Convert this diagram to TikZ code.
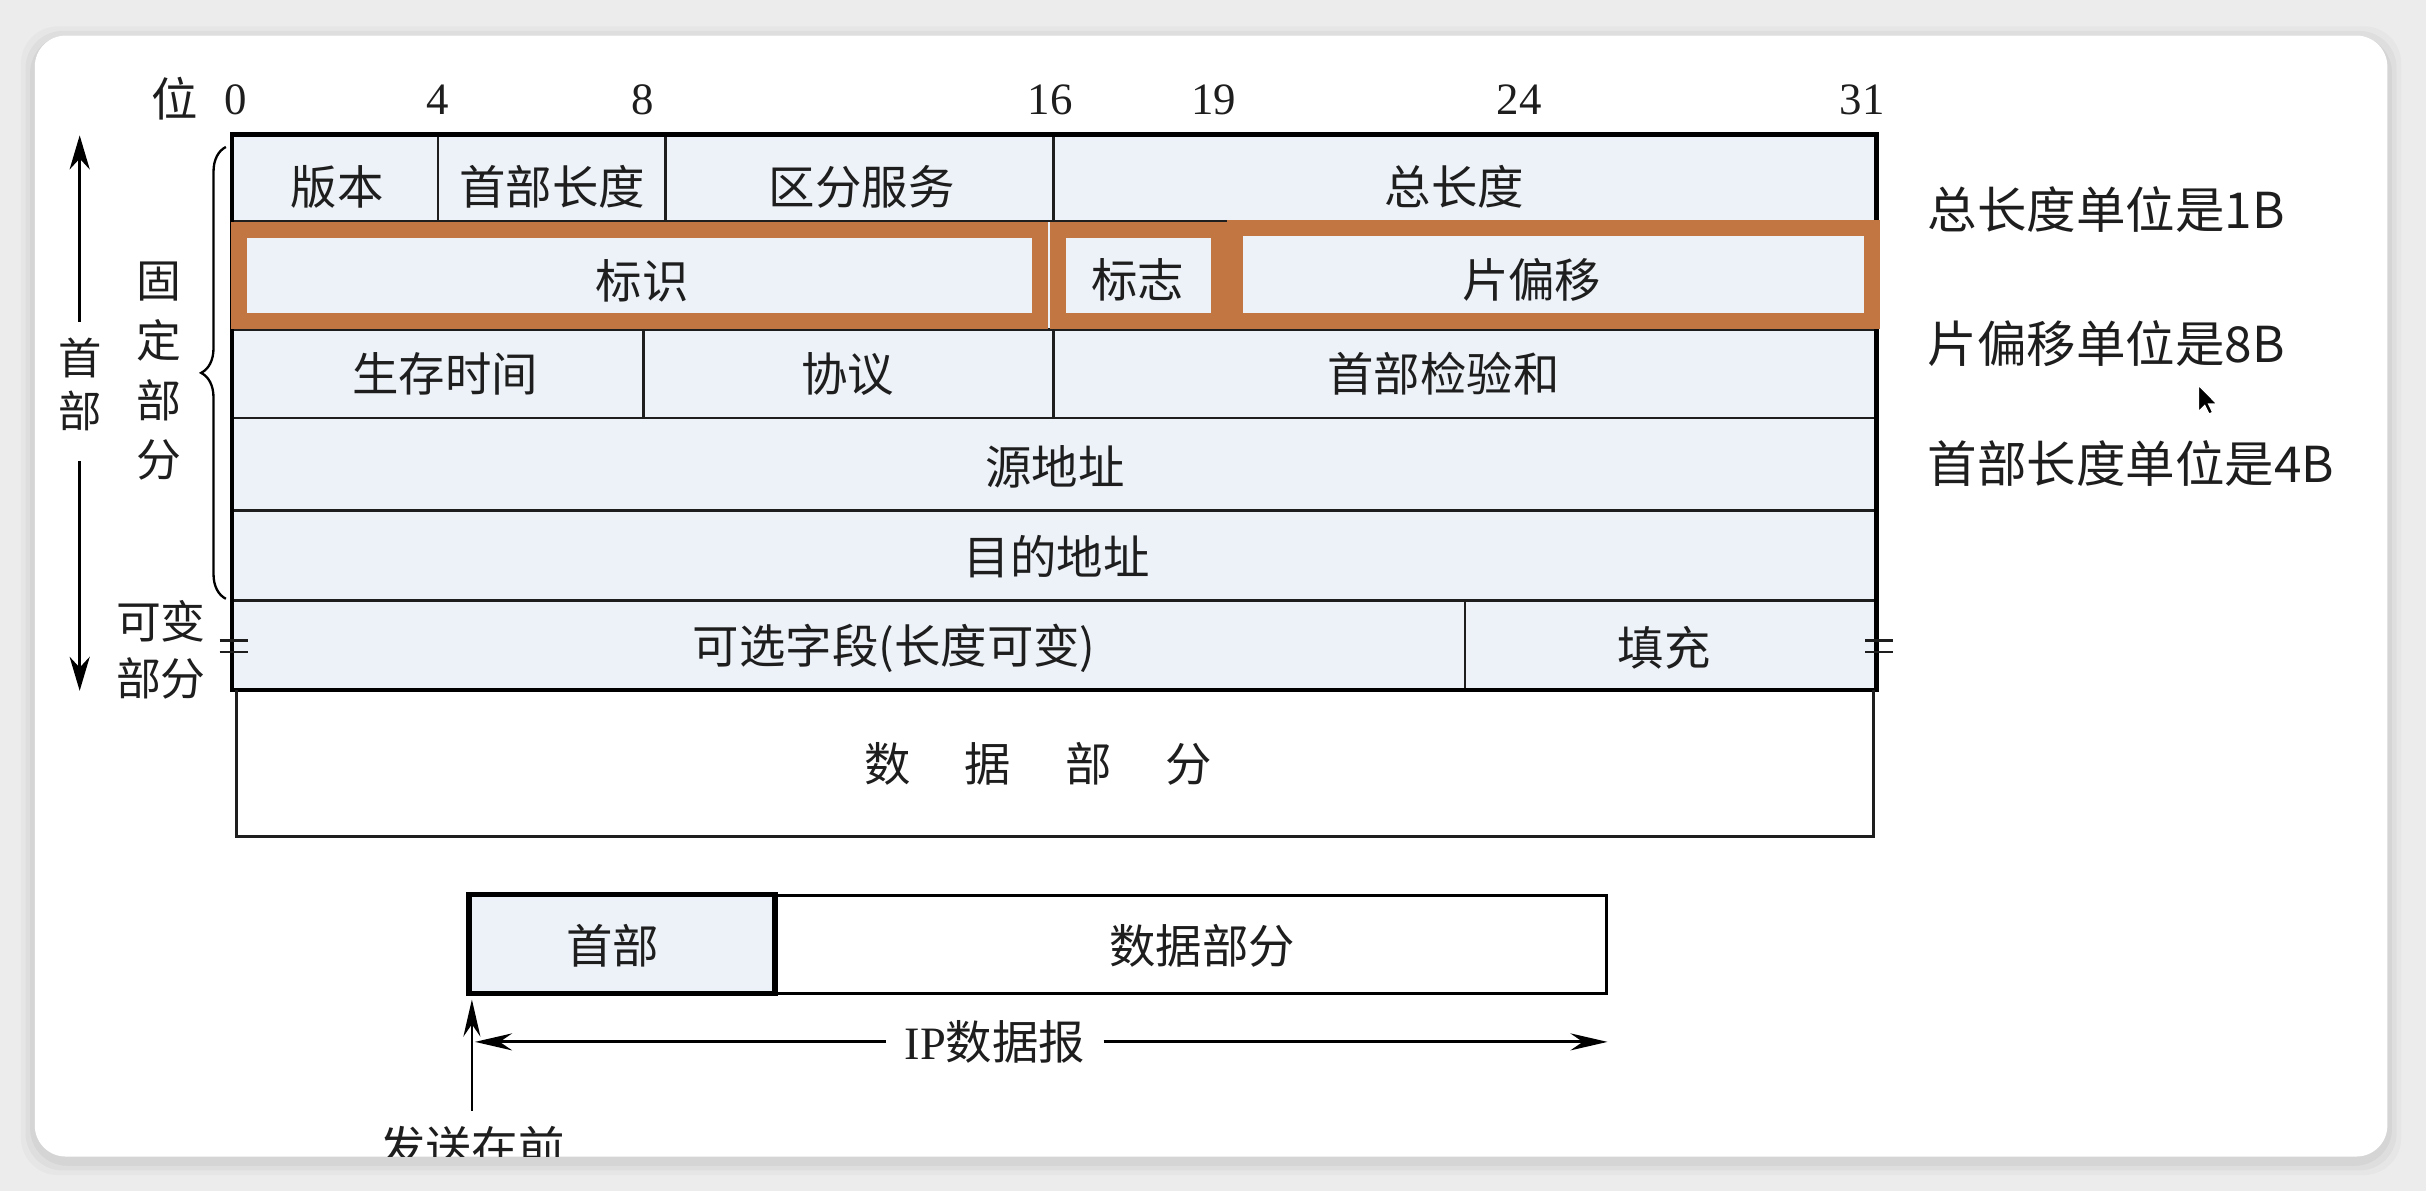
\documentclass[tikz,border=0pt]{standalone}
\usepackage{fontspec}
\setmainfont{Liberation Serif}
\newfontfamily\cjk{Noto Sans CJK SC}
\usetikzlibrary{arrows.meta,decorations.pathreplacing}
\definecolor{bgout}{RGB}{236,236,236}
\definecolor{cellfill}{RGB}{237,242,248}
\definecolor{hl}{RGB}{194,119,66}
\definecolor{ink}{RGB}{30,30,30}
\begin{document}
\begin{tikzpicture}[x=1pt,y=-1pt,
  every node/.style={inner sep=0pt,outer sep=0pt,text=ink},
  tab/.style={font=\cjk\fontsize{30}{34}\selectfont},
  lbl/.style={font=\cjk\fontsize{29}{37}\selectfont,align=center},
  bitn/.style={font=\fontsize{29}{32}\selectfont},
  side/.style={font=\cjk\fontsize{32}{36}\selectfont,anchor=west},
  gridln/.style={draw=ink,line width=1.6pt},
  tblframe/.style={draw=black,line width=3pt},
  hlbox/.style={draw=hl,line width=10.5pt},
  arrA/.style={draw=black,line width=1.8pt,-{Stealth[length=22pt,width=13pt,inset=7pt]}},
  arrB/.style={draw=black,line width=1.8pt,-{Stealth[length=24pt,width=11pt,inset=8pt]}}
]
\useasboundingbox (0,0) rectangle (1568,770);
% screen background and card
\fill[bgout] (0,0) rectangle (1568,770);
\foreach \o/\a in {9/0.025,6/0.03,3/0.04}{
  \fill[black,opacity=\a,rounded corners=24pt] (22.5-\o,23-\o+3) rectangle (1543+\o,747.5+\o+3);}
\fill[white,rounded corners=20pt] (22.5,23) rectangle (1543,747.5);

% header table
\fill[cellfill] (150,87) rectangle (1213,446);
\foreach \y in {143,213,270,330,388}{\draw[gridln] (150,\y) -- (1213,\y);}
\draw[gridln] (283,87) -- (283,143);
\draw[gridln] (430,87) -- (430,143);
\draw[gridln] (681,87) -- (681,270);
\draw[gridln] (416,213) -- (416,270);
\draw[gridln] (947,388) -- (947,446);
\draw[tblframe] (150,87) rectangle (1213,446);
% data part box
\draw[gridln] (153,446) -- (153,540.5) -- (1211,540.5) -- (1211,446);
% highlighted fields
\draw[hlbox] (154.25,148.5) rectangle (672.25,207.25);
\draw[hlbox] (684,148.5) rectangle (787.75,207.25);
\draw[hlbox] (798.25,147.5) rectangle (1209.75,207.25);
% break marks
\draw[gridln] (142,414) -- (160,414);
\draw[gridln] (142,421.5) -- (160,421.5);
\draw[gridln] (1205.5,414) -- (1223.5,414);
\draw[gridln] (1205.5,421.5) -- (1223.5,421.5);

% bit numbers
\node[tab] (wei) at (112.6,64) {位};
\node[bitn] (b0) at (152.5,64.5) {0};
\node[bitn] (b4) at (283,64.5) {4};
\node[bitn] (b8) at (415.5,64.5) {8};
\node[bitn] (b16) at (678.7,64.5) {16};
\node[bitn] (b19) at (784.6,64.5) {19};
\node[bitn] (b24) at (982,64.5) {24};
\node[bitn] (b31) at (1203.6,64.5) {31};

% field texts
\node[tab] (ver) at (218,120.6) {版本};
\node[tab] (ihl) at (357,120.6) {首部长度};
\node[tab] (ds) at (557,120.6) {区分服务};
\node[tab] (tlen) at (940,120.6) {总长度};
\node[tab] (ident) at (415,181.6) {标识};
\node[tab] (flag) at (735.5,181) {标志};
\node[tab] (frag) at (990,181) {片偏移};
\node[tab] (ttl) at (287.7,241.7) {生存时间};
\node[tab] (proto) at (548,241.7) {协议};
\node[tab] (csum) at (933,241.7) {首部检验和};
\node[tab] (src) at (682,302) {源地址};
\node[tab] (dst) at (683,359.5) {目的地址};
\node[tab] (opt) at (578,419) {可选字段(长度可变)};
\node[tab] (pad) at (1075.5,419) {填充};
\node[tab] (data) at (671,493.5) {数\hspace{35pt}据\hspace{35pt}部\hspace{35pt}分};

% left side labels
\node[lbl,font=\cjk\fontsize{28}{34}\selectfont] (hdr) at (51.5,248.5) {首\\部};
\coordinate (hdrA) at (51.5,208);
\coordinate (hdrB) at (51.5,298);
\coordinate (hdrtop) at (51.5,87.5);
\coordinate (hdrbot) at (51.5,446.5);
\draw[arrA] (hdrA) -- (hdrtop);
\draw[arrA] (hdrB) -- (hdrbot);
\node[lbl,font=\cjk\fontsize{29}{38.5}\selectfont] (fixed) at (103,240) {固\\定\\部\\分};
\node[lbl,font=\cjk\fontsize{29}{36.5}\selectfont] (var) at (104,420) {可变\\部分};
\draw[line width=1.5pt,decorate,decoration={brace,amplitude=16pt}] (146,387) -- (146,95);

% right notes
\node[side] (n1) at (1246,135.7) {总长度单位是1B};
\node[side] (n2) at (1246,222) {片偏移单位是8B};
\node[side] (n3) at (1246,299.5) {首部长度单位是4B};

% mouse cursor
\fill[black,draw=white,line width=0.8pt] (1421,249) -- ++(0,17) -- ++(4,-3.9) -- ++(2.7,5.5) -- ++(2.4,-1.1) -- ++(-2.6,-5.4) -- ++(5.4,0) -- cycle;

% IP datagram
\draw[line width=2pt] (501,578.5) rectangle (1038.5,642);
\filldraw[fill=cellfill,draw=black,line width=3.5pt] (303,578.3) rectangle (501,642);
\node[tab] (bh) at (396,611.4) {首部};
\node[tab] (bd) at (777,611) {数据部分};
\node[font=\fontsize{30}{34}\selectfont,inner xsep=12pt] (ip) at (643,673.4) {IP{\cjk 数据报}};
\coordinate (ipL) at (307,673.4);
\coordinate (ipR) at (1039,673.4);
\draw[arrB] (ip.west) -- (ipL);
\draw[arrB] (ip.east) -- (ipR);
\coordinate (sendtail) at (305,718);
\coordinate (sendtip) at (305,646);
\draw[arrB] (sendtail) -- (sendtip);
\begin{scope}
  \clip[rounded corners=20pt] (22.5,23) rectangle (1543,747.5);
  \node[tab] (send) at (305,742) {发送在前};
\end{scope}
\end{tikzpicture}
\end{document}
